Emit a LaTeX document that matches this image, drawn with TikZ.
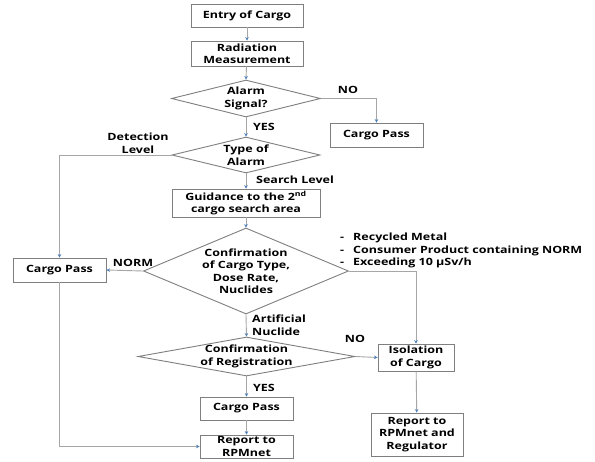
\documentclass[tikz,border=0pt]{standalone}
\usepackage{fontspec}
\setmainfont{Open Sans}[FakeStretch=1.25]
\usetikzlibrary{arrows.meta,shapes.geometric}
\definecolor{boxline}{HTML}{7F7F7F}
\definecolor{conline}{HTML}{A6A6A6}
\definecolor{tipblue}{HTML}{4A7EBB}
\begin{document}
\begin{tikzpicture}[x=1pt,y=-1pt,
  font=\fontsize{10}{12.5}\selectfont\bfseries,
  box/.style={draw=boxline,line width=0.9pt,rectangle,inner sep=0pt,align=center},
  dia/.style={draw=boxline,line width=0.9pt,diamond,inner sep=0pt},
  con/.style={draw=conline,line width=0.9pt,-{Stealth[length=3.5pt,width=3.5pt,color=tipblue]}},
  lbl/.style={inner sep=0pt,align=center}]
\fill[white] (0,0) rectangle (595,461);
\useasboundingbox (0,0) rectangle (595,461);
% boxes
\node[box,minimum width=112,minimum height=23] (entry) at (247,15.5) {Entry of Cargo};
\node[box,minimum width=112,minimum height=25] (meas) at (247,53.5) {Radiation\\Measurement};
\node[dia,minimum width=149,minimum height=37,label={[lbl]center:{Alarm\\Signal?}}] (alarm) at (246,98.5) {};
\node[box,minimum width=93,minimum height=24] (pass1) at (376.5,135) {Cargo Pass};
\node[dia,minimum width=148,minimum height=36,label={[lbl]center:{Type of\\Alarm}}] (type) at (246,155) {};
\node[box,minimum width=148,minimum height=28] (guide) at (246,203) {Guidance to the 2\textsuperscript{nd}\\cargo search area};
\node[dia,minimum width=205,minimum height=86,label={[lbl]center:{Confirmation\\of Cargo Type,\\Dose Rate,\\Nuclides}}] (conf) at (246,271) {};
\node[box,minimum width=93,minimum height=24] (pass2) at (59.5,270) {Cargo Pass};
\node[dia,minimum width=217,minimum height=39,label={[lbl]center:{Confirmation\\of Registration}}] (reg) at (246.5,356.5) {};
\node[box,minimum width=76,minimum height=27] (iso) at (416,357.5) {Isolation\\of Cargo};
\node[box,minimum width=93,minimum height=23] (pass3) at (246.5,408.5) {Cargo Pass};
\node[box,minimum width=93,minimum height=23] (rep1) at (246.5,446.5) {Report to\\RPMnet};
\node[box,minimum width=92,minimum height=43] (rep2) at (417,434.5) {Report to\\RPMnet and\\Regulator};
% labels
\node[lbl] (lno1) at (348,90) {NO};
\node[lbl] (lyes1) at (264,127) {YES};
\node[lbl] (ldet) at (138,143) {Detection\\Level};
\node[lbl,anchor=west] (lsearch) at (256,180) {Search Level};
\node[lbl] (lnorm) at (133,263) {NORM};
\node[lbl,anchor=north west] (lbul) at (340,232) {\begin{tabular}{@{}l@{\hspace{9pt}}l@{}}-&Recycled Metal\\-&Consumer Product containing NORM\\-&Exceeding 10 µSv/h\end{tabular}};
\node[lbl,anchor=west,align=left] (lart) at (252,325) {Artificial\\Nuclide};
\node[lbl] (lno2) at (355,339) {NO};
\node[lbl] (lyes2) at (264,388) {YES};
% connectors
\draw[con] (entry) -- (meas);
\draw[con] (meas) -- (alarm.north);
\draw[con] (alarm.east) -| (pass1.north);
\draw[con] (alarm.south) -- (type.north);
\draw[con] (type.west) -| (pass2.north);
\draw[con] (type.south) -- (guide.north);
\draw[con] (guide.south) -- (conf.north);
\draw[con] (conf.west) -- (pass2.east);
\draw[con] (conf.east) -| (iso.north);
\draw[con] (conf.south) -- (reg.north);
\draw[con] (reg.east) -- (iso.west);
\draw[con] (reg.south) -- (pass3.north);
\draw[con] (pass3) -- (rep1);
\draw[con] (iso) -- (rep2);
\draw[con] (pass2.south) |- (rep1.west);
\end{tikzpicture}
\end{document}
